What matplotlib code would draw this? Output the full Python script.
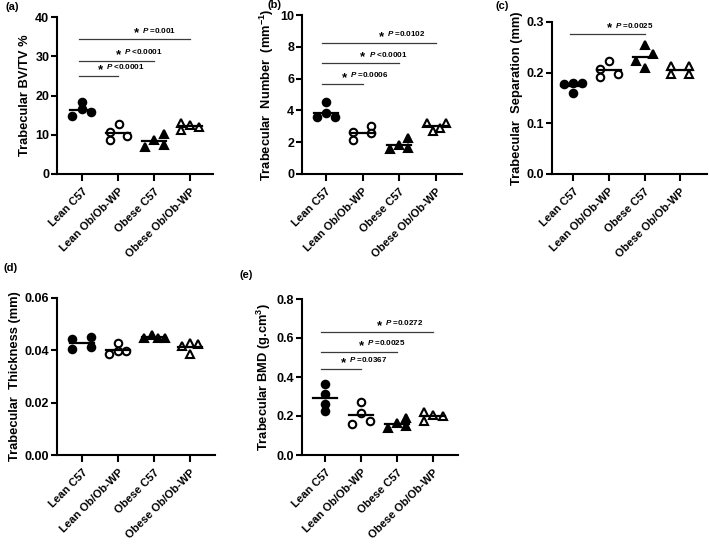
import matplotlib
matplotlib.use("Agg")
import matplotlib.pyplot as plt
import numpy as np

plt.rcParams['font.family'] = ['Liberation Sans', 'DejaVu Sans']
plt.rcParams['font.weight'] = 'bold'
plt.rcParams['mathtext.fontset'] = 'custom'
plt.rcParams['mathtext.rm'] = 'Liberation Sans:bold'
plt.rcParams['mathtext.it'] = 'Liberation Sans:italic:bold'
plt.rcParams['mathtext.bf'] = 'Liberation Sans:bold'

groups = ["Lean C57", "Lean Ob/Ob-WP", "Obese C57", "Obese Ob/Ob-WP"]

# (a) Trabecular BV/TV %
bvtv_lean_c57 = [14.85, 18.3, 16.5, 15.9]
bvtv_lean_ob = [10.8, 8.66, 12.7, 9.68]
bvtv_obese_c57 = [7.0, 8.66, 10.1, 7.4]
bvtv_obese_ob = [13.1, 11.2, 12.6, 11.9]
bvtv_sig_targets = [1, 2, 3]
bvtv_sig_levels = [25.0, 28.9, 34.3]
bvtv_sig_text = ["P <0.0001", "P <0.0001", "P =0.001"]

# (b) Trabecular Number
tbn_lean_c57 = [3.57, 4.51, 3.82, 3.57]
tbn_lean_ob = [2.66, 2.14, 3.04, 2.6]
tbn_obese_c57 = [1.55, 1.82, 2.24, 1.65]
tbn_obese_ob = [3.19, 2.72, 2.91, 3.19]
tbn_sig_targets = [1, 2, 3]
tbn_sig_levels = [5.66, 6.96, 8.26]
tbn_sig_text = ["P =0.0006", "P <0.0001", "P =0.0102"]

# (c) Trabecular Separation
tbsp_lean_c57 = [0.177, 0.180, 0.1605, 0.179]
tbsp_lean_ob = [0.2066, 0.192, 0.223, 0.197]
tbsp_obese_c57 = [0.2236, 0.2546, 0.2086, 0.236]
tbsp_obese_ob = [0.2138, 0.197, 0.2138, 0.197]
tbsp_sig_targets = [2]
tbsp_sig_levels = [0.2757]
tbsp_sig_text = ["P =0.0025"]

# (d) Trabecular Thickness
tbth_lean_c57 = [0.0443, 0.0404, 0.0450, 0.0414]
tbth_lean_ob = [0.0385, 0.0429, 0.0399, 0.0399]
tbth_obese_c57 = [0.0446, 0.0459, 0.0448, 0.0448]
tbth_obese_ob = [0.0418, 0.0427, 0.0385, 0.0423]

# (e) Trabecular BMD
bmd_lean_c57 = [0.364, 0.311, 0.2615, 0.2256]
bmd_lean_ob = [0.159, 0.270, 0.214, 0.176]
bmd_obese_c57 = [0.137, 0.1624, 0.191, 0.150]
bmd_obese_ob = [0.222, 0.174, 0.205, 0.200]
bmd_sig_targets = [1, 2, 3]
bmd_sig_levels = [0.441, 0.530, 0.632]
bmd_sig_text = ["P =0.0367", "P =0.0025", "P =0.0272"]

W, H = 709, 544
fig = plt.figure(figsize=(W / 100, H / 100), dpi=100)


def px_axes(left, top, right, bottom):
    return fig.add_axes([left / W, 1 - bottom / H, (right - left) / W, (bottom - top) / H])


marker_styles = [
    dict(marker='o', mfc='black', mec='black'),
    dict(marker='o', mfc='white', mec='black'),
    dict(marker='^', mfc='black', mec='black'),
    dict(marker='^', mfc='white', mec='black'),
]


def draw_panel(ax, data, jitter, ylim, yticks, yticklabels, ylabel, xlim,
               sig_targets=(), sig_levels=(), sig_text=()):
    for i, (vals, jit) in enumerate(zip(data, jitter)):
        xs = i + np.array(jit)
        ax.plot(xs, vals, linestyle='none', markersize=5.4, mew=1.5,
                zorder=3, clip_on=False, **marker_styles[i])
        m = np.mean(vals)
        ax.plot([i - 0.33, i + 0.33], [m, m], color='black', lw=1.6, zorder=4)
    for tgt, lvl, txt in zip(sig_targets, sig_levels, sig_text):
        x0 = -0.1
        ax.plot([x0, tgt], [lvl, lvl], color='#3a3a3a', lw=0.9, zorder=2)
        mid = (x0 + tgt) / 2
        ax.annotate("*", xy=(mid, lvl), xytext=(1.5, 4.2), textcoords='offset points',
                    ha='center', va='center', fontsize=9.5, fontweight='bold')
        ax.annotate("$P$ " + txt[2:], xy=(mid, lvl), xytext=(5.8, 6.5),
                    textcoords='offset points', ha='left', va='center',
                    fontsize=5.8, fontweight='bold')
    ax.set_xlim(*xlim)
    ax.set_ylim(*ylim)
    ax.set_yticks(yticks)
    ax.set_yticklabels(yticklabels)
    ax.set_xticks(range(len(groups)))
    ax.set_xticklabels(groups, rotation=45, ha='right', rotation_mode='anchor')
    ax.spines['top'].set_visible(False)
    ax.spines['right'].set_visible(False)
    for s in ('left', 'bottom'):
        ax.spines[s].set_linewidth(1.5)
    ax.tick_params(axis='y', direction='out', length=4, width=1.5,
                   labelsize=9, pad=1.5)
    ax.tick_params(axis='x', direction='out', length=5, width=1.5,
                   labelsize=8, pad=4)
    ax.set_ylabel(ylabel, fontsize=9.3, fontweight='bold', labelpad=3)
    ax.patch.set_alpha(0)


# (a)
ax_a = px_axes(57, 17, 213, 174)
draw_panel(ax_a,
           [bvtv_lean_c57, bvtv_lean_ob, bvtv_obese_c57, bvtv_obese_ob],
           [[-0.27, 0, 0, 0.24], [-0.22, -0.22, 0.02, 0.25],
            [-0.25, 0, 0.27, 0.27], [-0.25, -0.25, 0, 0.25]],
           (0, 40), [0, 10, 20, 30, 40], ["0", "10", "20", "30", "40"],
           "Trabecular BV/TV %", (-0.7, 3.65),
           bvtv_sig_targets, bvtv_sig_levels, bvtv_sig_text)

# (b)
ax_b = px_axes(302, 15, 462, 174)
draw_panel(ax_b,
           [tbn_lean_c57, tbn_lean_ob, tbn_obese_c57, tbn_obese_ob],
           [[-0.24, 0, 0, 0.24], [-0.25, -0.25, 0.24, 0.24],
            [-0.25, 0, 0.25, 0.25], [-0.25, -0.08, 0.1, 0.27]],
           (0, 10), [0, 2, 4, 6, 8, 10], ["0", "2", "4", "6", "8", "10"],
           "Trabecular  Number  (mm$^{-1}$)", (-0.65, 3.71),
           tbn_sig_targets, tbn_sig_levels, tbn_sig_text)

# (c)
ax_c = px_axes(552, 22, 707, 174)
draw_panel(ax_c,
           [tbsp_lean_c57, tbsp_lean_ob, tbsp_obese_c57, tbsp_obese_ob],
           [[-0.25, 0, 0, 0.25], [-0.25, -0.25, 0, 0.25],
            [-0.25, 0, 0, 0.25], [-0.25, -0.25, 0.25, 0.25]],
           (0, 0.3), [0, 0.1, 0.2, 0.3], ["0.0", "0.1", "0.2", "0.3"],
           "Trabecular  Separation (mm)", (-0.59, 3.75),
           tbsp_sig_targets, tbsp_sig_levels, tbsp_sig_text)

# (d)
ax_d = px_axes(57, 298, 215, 455)
draw_panel(ax_d,
           [tbth_lean_c57, tbth_lean_ob, tbth_obese_c57, tbth_obese_ob],
           [[-0.27, -0.27, 0.25, 0.25], [-0.25, 0, 0, 0.22],
            [-0.28, -0.06, 0.11, 0.3], [-0.22, 0, 0, 0.22]],
           (0, 0.06), [0, 0.02, 0.04, 0.06], ["0.00", "0.02", "0.04", "0.06"],
           "Trabecular  Thickness (mm)", (-0.7, 3.7))

# (e)
ax_e = px_axes(302, 299, 458, 455)
draw_panel(ax_e,
           [bmd_lean_c57, bmd_lean_ob, bmd_obese_c57, bmd_obese_ob],
           [[0, 0, 0, 0], [-0.25, 0, 0, 0.25],
            [-0.25, 0, 0.25, 0.25], [-0.25, -0.25, 0, 0.27]],
           (0, 0.8), [0, 0.2, 0.4, 0.6, 0.8], ["0.0", "0.2", "0.4", "0.6", "0.8"],
           "Trabecular BMD (g.cm$^3$)", (-0.64, 3.69),
           bmd_sig_targets, bmd_sig_levels, bmd_sig_text)

for lbl, x, y in [("(a)", 5, 7), ("(b)", 268, 5), ("(c)", 495, 6),
                  ("(d)", 3, 268), ("(e)", 240, 275)]:
    fig.text(x / W, 1 - y / H, lbl, fontsize=8, fontweight='bold',
             ha='left', va='center')

fig.savefig("out.png", dpi=100)
